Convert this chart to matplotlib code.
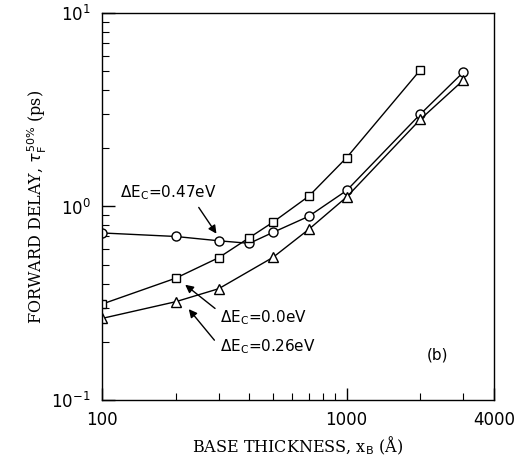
import numpy as np
import matplotlib
matplotlib.use("Agg")
import matplotlib.pyplot as plt
from matplotlib.ticker import FixedLocator, NullFormatter, LogLocator

# base thickness (Angstrom) and forward delay (ps) for each conduction band offset
x_047 = [100, 200, 300, 400, 500, 700, 1000, 2000, 3000]
t_047 = [0.73, 0.70, 0.665, 0.645, 0.735, 0.89, 1.21, 3.0, 4.95]

x_000 = [100, 200, 300, 400, 500, 700, 1000, 2000]
t_000 = [0.313, 0.426, 0.544, 0.69, 0.83, 1.13, 1.79, 5.08]

x_026 = [100, 200, 300, 500, 700, 1000, 2000, 3000]
t_026 = [0.264, 0.322, 0.376, 0.546, 0.762, 1.12, 2.82, 4.5]

xticks = [100, 1000, 4000]
xtick_labels = ["100", "1000", "4000"]

W, H = 521, 469
fig = plt.figure(figsize=(W / 100, H / 100), dpi=100)
L, R, T, B = 102, 494, 13, 400
ax = fig.add_axes([L / W, 1 - B / H, (R - L) / W, (B - T) / H])

mk = dict(color="black", lw=1.0, mfc="white", mec="black", mew=1.0)
ax.plot(x_047, t_047, marker="o", ms=6.5, **mk)
ax.plot(x_000, t_000, marker="s", ms=6.3, **mk)
ax.plot(x_026, t_026, marker="^", ms=7, **mk)

ax.set_xscale("log")
ax.set_yscale("log")
ax.set_xlim(100, 4000)
ax.set_ylim(0.1, 10)

ax.xaxis.set_major_locator(FixedLocator(xticks))
ax.xaxis.set_minor_locator(FixedLocator([200, 300, 400, 500, 600, 700, 800, 900, 2000, 3000]))
ax.set_xticklabels(xtick_labels)
ax.xaxis.set_minor_formatter(NullFormatter())
ax.yaxis.set_minor_locator(LogLocator(base=10, subs=np.arange(2, 10)))
ax.yaxis.set_minor_formatter(NullFormatter())

ax.tick_params(which="both", direction="in", top=False, right=False, labelsize=12)
ax.tick_params(which="major", length=9, width=1.0, pad=8)
ax.tick_params(which="minor", length=5, width=0.8)
for s in ax.spines.values():
    s.set_linewidth(1.0)

ax.set_xlabel(r"BASE THICKNESS, x$_\mathrm{B}$ (Å)", family="DejaVu Serif", fontsize=11.5, labelpad=4)
ax.set_ylabel(r"FORWARD DELAY, $\tau_\mathrm{F}^{50\%}$ (ps)", family="DejaVu Serif", fontsize=11.5, labelpad=2)


def af(px, py):
    return ((px - L) / (R - L), (B - py) / (B - T))


arr = dict(arrowstyle="-|>", color="black", lw=1.0, mutation_scale=12)
ax.annotate(r"$\Delta$E$_\mathrm{C}$=0.47eV", xy=af(218, 236), xycoords="axes fraction",
            xytext=af(120, 193), textcoords="axes fraction", ha="left", va="center",
            fontsize=11, arrowprops=dict(arr, relpos=(0.78, 0.0)))
ax.annotate(r"$\Delta$E$_\mathrm{C}$=0.0eV", xy=af(183, 283), xycoords="axes fraction",
            xytext=af(220, 318), textcoords="axes fraction", ha="left", va="center",
            fontsize=11, arrowprops=dict(arr, relpos=(0.0, 0.8)))
ax.annotate(r"$\Delta$E$_\mathrm{C}$=0.26eV", xy=af(187, 307), xycoords="axes fraction",
            xytext=af(220, 347), textcoords="axes fraction", ha="left", va="center",
            fontsize=11, arrowprops=dict(arr, relpos=(-0.04, 0.75)))
ax.text(*af(438, 355), "(b)", transform=ax.transAxes, ha="center", va="center", fontsize=11)

fig.savefig("out.png", dpi=100)
